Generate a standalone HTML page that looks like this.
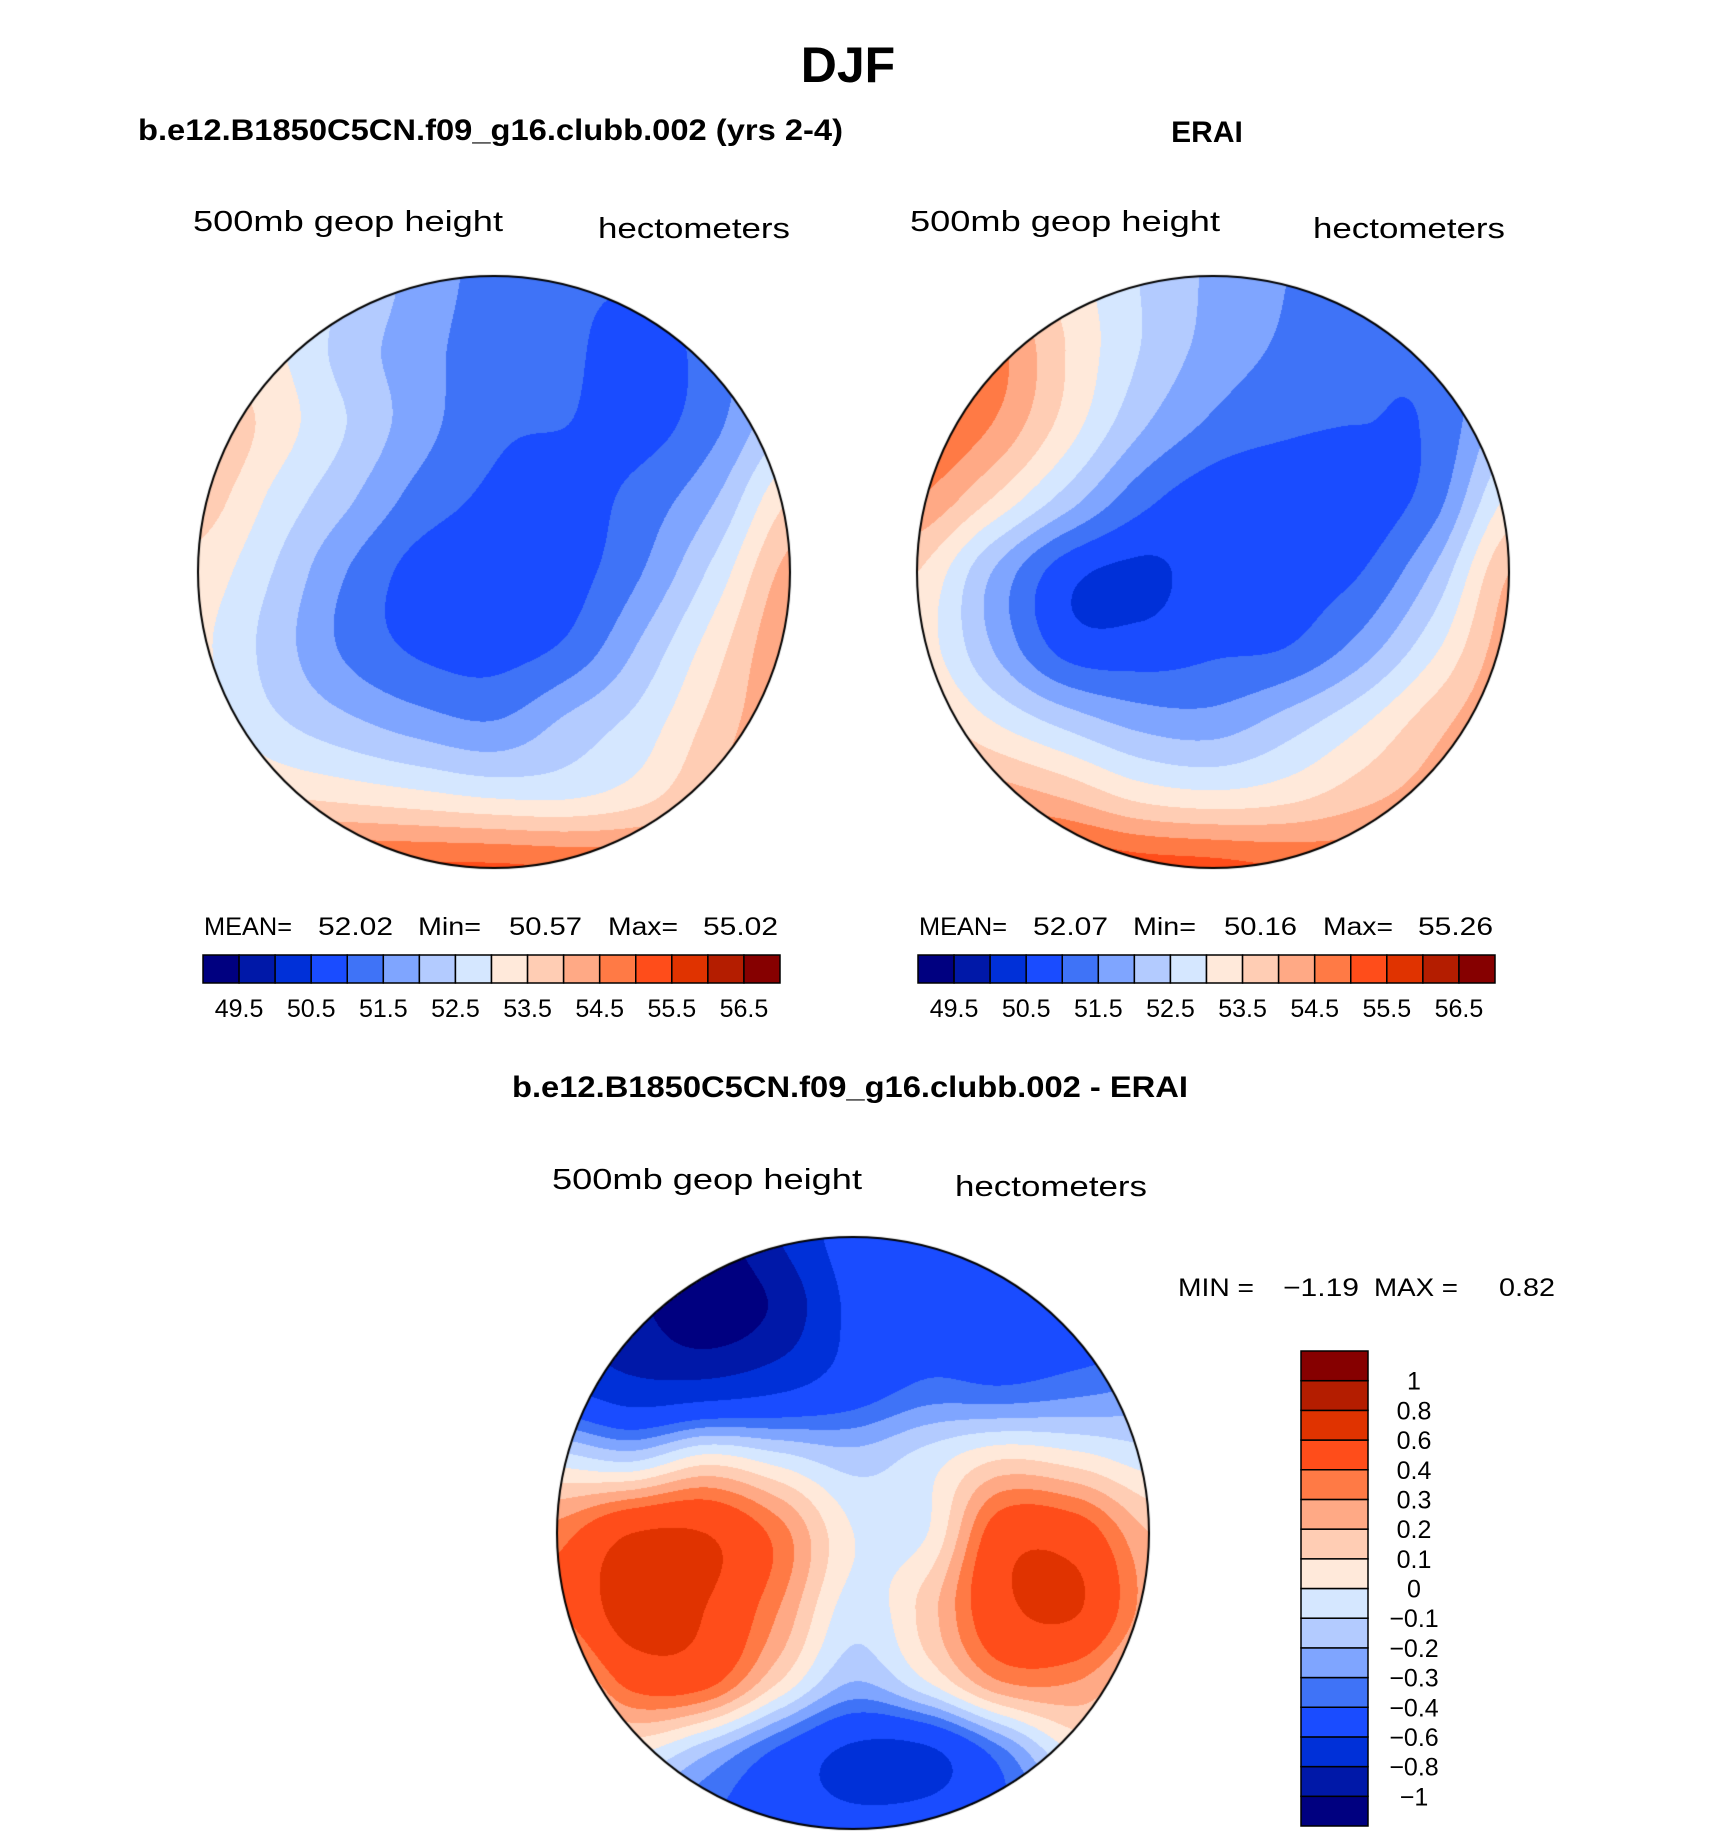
<!DOCTYPE html>
<html><head><meta charset="utf-8"><style>
html,body{margin:0;padding:0;background:#fff;}
#wrap{position:relative;width:1710px;height:1839px;overflow:hidden;}
canvas{position:absolute;}
svg{position:absolute;left:0;top:0;}
text{font-family:"Liberation Sans",sans-serif;fill:#000;}
.b{font-weight:bold;}
</style></head><body>
<div id="wrap">
<canvas id="m1" width="600" height="600" style="left:194px;top:272px"></canvas>
<canvas id="m2" width="600" height="600" style="left:913px;top:272px"></canvas>
<canvas id="m3" width="600" height="600" style="left:553px;top:1233px"></canvas>
<svg id="ov" width="1710" height="1839">
<text x="848" y="82" text-anchor="middle" class="b" font-size="50">DJF</text>
<text x="138" y="140" class="b" font-size="30" textLength="705" lengthAdjust="spacingAndGlyphs">b.e12.B1850C5CN.f09_g16.clubb.002 (yrs 2-4)</text>
<text x="1207" y="142" text-anchor="middle" class="b" font-size="30">ERAI</text>
<text x="193" y="231" font-size="29" textLength="310" lengthAdjust="spacingAndGlyphs">500mb  geop  height</text>
<text x="598" y="238" font-size="29" textLength="192" lengthAdjust="spacingAndGlyphs">hectometers</text>
<text x="910" y="231" font-size="29" textLength="310" lengthAdjust="spacingAndGlyphs">500mb  geop  height</text>
<text x="1313" y="238" font-size="29" textLength="192" lengthAdjust="spacingAndGlyphs">hectometers</text>
<text x="850" y="1097" text-anchor="middle" class="b" font-size="30" textLength="676" lengthAdjust="spacingAndGlyphs">b.e12.B1850C5CN.f09_g16.clubb.002 - ERAI</text>
<text x="552" y="1189" font-size="29" textLength="310" lengthAdjust="spacingAndGlyphs">500mb  geop  height</text>
<text x="955" y="1196" font-size="29" textLength="192" lengthAdjust="spacingAndGlyphs">hectometers</text>
<g font-size="25">
<text x="204" y="935" textLength="88" lengthAdjust="spacingAndGlyphs">MEAN=</text><text x="318" y="935" textLength="75" lengthAdjust="spacingAndGlyphs">52.02</text><text x="418" y="935" textLength="63" lengthAdjust="spacingAndGlyphs">Min=</text><text x="509" y="935" textLength="73" lengthAdjust="spacingAndGlyphs">50.57</text><text x="608" y="935" textLength="70" lengthAdjust="spacingAndGlyphs">Max=</text><text x="703" y="935" textLength="75" lengthAdjust="spacingAndGlyphs">55.02</text>
</g>
<g font-size="25">
<text x="919" y="935" textLength="88" lengthAdjust="spacingAndGlyphs">MEAN=</text><text x="1033" y="935" textLength="75" lengthAdjust="spacingAndGlyphs">52.07</text><text x="1133" y="935" textLength="63" lengthAdjust="spacingAndGlyphs">Min=</text><text x="1224" y="935" textLength="73" lengthAdjust="spacingAndGlyphs">50.16</text><text x="1323" y="935" textLength="70" lengthAdjust="spacingAndGlyphs">Max=</text><text x="1418" y="935" textLength="75" lengthAdjust="spacingAndGlyphs">55.26</text>
</g>
<g font-size="25">
<text x="1178" y="1296" textLength="76" lengthAdjust="spacingAndGlyphs">MIN =</text><text x="1283" y="1296" textLength="76" lengthAdjust="spacingAndGlyphs">−1.19</text><text x="1374" y="1296" textLength="84" lengthAdjust="spacingAndGlyphs">MAX =</text><text x="1499" y="1296" textLength="56" lengthAdjust="spacingAndGlyphs">0.82</text>
</g>
<g id="cb1"></g>
<g id="cb2"></g>
<g id="cb3"></g>
</svg>
</div>
<script>
const absColors = ["#000080","#0018a8","#0030d8","#1a4cff","#3f73f7","#7fa5ff","#b3cbff","#d5e7ff","#ffe9da","#ffcdb4","#ffa985","#ff7a45","#ff4d1a","#e03300","#b41d00","#860000"];
const absLevels = [49.5,50,50.5,51,51.5,52,52.5,53,53.5,54,54.5,55,55.5,56,56.5];
const absTickLabels = ["49.5","50.5","51.5","52.5","53.5","54.5","55.5","56.5"];
const diffLevels = [-1,-0.8,-0.6,-0.4,-0.3,-0.2,-0.1,0,0.1,0.2,0.3,0.4,0.6,0.8,1];
const diffTickLabels = ["−1","−0.8","−0.6","−0.4","−0.3","−0.2","−0.1","0","0.1","0.2","0.3","0.4","0.6","0.8","1"];
const modelGrid = [
[53.5,53,52.5,51.8,51.3,51.1,51.1,51.5,52],
[53.3,53.1,52.3,51.7,51.2,51.1,50.7,51.3,52],
[54.1,53.3,52.5,51.7,51.1,51,50.8,51.4,52.5],
[53.8,52.9,52.1,51.3,50.9,50.8,51.2,52,53.5],
[53.3,52.5,51.5,50.8,50.7,50.8,51.5,52.7,54.2],
[53.1,52.3,51.4,50.9,50.8,51.1,52.1,53.3,54.5],
[53.3,52.6,52.1,51.7,51.5,52.1,52.7,53.7,54.5],
[53.8,53.5,53.3,53.1,52.9,52.9,53.3,54.1,54.5],
[55.1,55.1,55.1,55.1,55.1,55,54.9,54.8,54.6]];
const eraiGrid = [
[54.5,54,53.3,52.5,51.9,51.5,51.3,51.5,52],
[55,54.7,53.5,52.5,51.8,51.4,51.1,51.2,52],
[55.1,54.5,53.3,52.1,51.4,51.1,51,51.1,52.3],
[54.5,53.5,52.3,51.2,50.7,50.6,50.7,51.3,53.1],
[53.5,52.0,50.7,50.4,50.7,50.8,51.0,52.1,54],
[53.3,52.0,50.8,50.7,50.9,51.0,51.7,52.9,54.3],
[53.8,53,52.3,51.8,51.7,52.2,52.9,53.8,54.5],
[54.5,54.3,53.9,53.3,53.1,53.3,53.8,54.3,54.7],
[55.5,55.5,55.5,55.3,55.2,55,54.9,54.9,54.9]];
const diffGrid = [
[-0.9,-1.0,-1.1,-0.8,-0.5,-0.5,-0.5,-0.5,-0.5],
[-0.9,-0.95,-1.15,-0.95,-0.55,-0.5,-0.5,-0.5,-0.5],
[-0.6,-0.75,-0.75,-0.65,-0.5,-0.38,-0.4,-0.35,-0.3],
[-0.05,-0.12,0.05,-0.05,-0.15,-0.05,0.1,0.05,-0.05],
[0.35,0.6,0.6,0.35,0.0,0.0,0.5,0.5,0.2],
[0.4,0.7,0.6,0.3,-0.05,0.15,0.55,0.62,0.25],
[0.1,0.45,0.45,0.1,-0.2,0.0,0.3,0.3,0.1],
[-0.1,0.0,-0.2,-0.45,-0.65,-0.65,-0.35,0.0,0.0],
[-0.3,-0.3,-0.4,-0.5,-0.55,-0.5,-0.4,-0.3,-0.3]];

function hex(c){return [parseInt(c.slice(1,3),16),parseInt(c.slice(3,5),16),parseInt(c.slice(5,7),16)];}
const rgb = absColors.map(hex);
function cr(p0,p1,p2,p3,t){return 0.5*((2*p1)+(-p0+p2)*t+(2*p0-5*p1+4*p2-p3)*t*t+(-p0+3*p1-3*p2+p3)*t*t*t);}
function sample(g,u,v){
  const n=g.length;
  const i=Math.min(Math.floor(v),n-2), j=Math.min(Math.floor(u),n-2);
  const tv=v-i, tu=u-j;
  const G=(r,c)=>g[Math.max(0,Math.min(n-1,r))][Math.max(0,Math.min(n-1,c))];
  const rows=[];
  for(let r=i-1;r<=i+2;r++) rows.push(cr(G(r,j-1),G(r,j),G(r,j+1),G(r,j+2),tu));
  return cr(rows[0],rows[1],rows[2],rows[3],tv);
}
function level(levels,v){let k=0;while(k<levels.length&&v>=levels[k])k++;return k;}
function drawMap(id,grid,levels){
  const cv=document.getElementById(id),ctx=cv.getContext('2d');
  const R=296,C=300;
  const img=ctx.createImageData(600,600);
  for(let y=0;y<600;y++)for(let x=0;x<600;x++){
    const dx=x-C,dy=y-C; if(dx*dx+dy*dy>R*R) continue;
    const u=(dx/R+1)*4, v=(dy/R+1)*4;
    const k=level(levels,sample(grid,u,v));
    const c=rgb[k],o=(y*600+x)*4;
    img.data[o]=c[0];img.data[o+1]=c[1];img.data[o+2]=c[2];img.data[o+3]=255;
  }
  ctx.putImageData(img,0,0);
  ctx.beginPath();ctx.arc(C,C,R,0,Math.PI*2);ctx.lineWidth=2;ctx.strokeStyle='#000';ctx.stroke();
}
drawMap('m1',modelGrid,absLevels);
drawMap('m2',eraiGrid,absLevels);
drawMap('m3',diffGrid,diffLevels);

const NS='http://www.w3.org/2000/svg';
function hbar(gid,x0,w){
  const g=document.getElementById(gid),bw=w/16;
  absColors.forEach((c,i)=>{
    const r=document.createElementNS(NS,'rect');
    r.setAttribute('x',x0+i*bw);r.setAttribute('y',955);r.setAttribute('width',bw);r.setAttribute('height',28);
    r.setAttribute('fill',c);r.setAttribute('stroke','#000');r.setAttribute('stroke-width','1.5');
    
    
    g.appendChild(r);
  });
  absTickLabels.forEach((l,i)=>{
    const t=document.createElementNS(NS,'text');
    t.setAttribute('x',x0+(2*i+1)*bw);t.setAttribute('y',1017);t.setAttribute('text-anchor','middle');t.setAttribute('font-size','25');
    t.textContent=l;
    
    
    g.appendChild(t);
  });
}
hbar('cb1',203,577);
hbar('cb2',918,577);
(function(){
  const g=document.getElementById('cb3'),x0=1301,y0=1351,h=475,bh=h/16;
  absColors.forEach((c,i)=>{
    const r=document.createElementNS(NS,'rect');
    r.setAttribute('x',x0);r.setAttribute('y',y0+(15-i)*bh);r.setAttribute('width',67);r.setAttribute('height',bh);
    r.setAttribute('fill',c);r.setAttribute('stroke','#000');r.setAttribute('stroke-width','1.5');
    
    
    g.appendChild(r);
  });
  diffTickLabels.forEach((l,i)=>{
    const t=document.createElementNS(NS,'text');
    t.setAttribute('x',1414);t.setAttribute('y',y0+(15-i)*bh+9);t.setAttribute('text-anchor','middle');t.setAttribute('font-size','25');
    t.textContent=l;
    
    
    g.appendChild(t);
  });
})();
</script>
</body></html>
